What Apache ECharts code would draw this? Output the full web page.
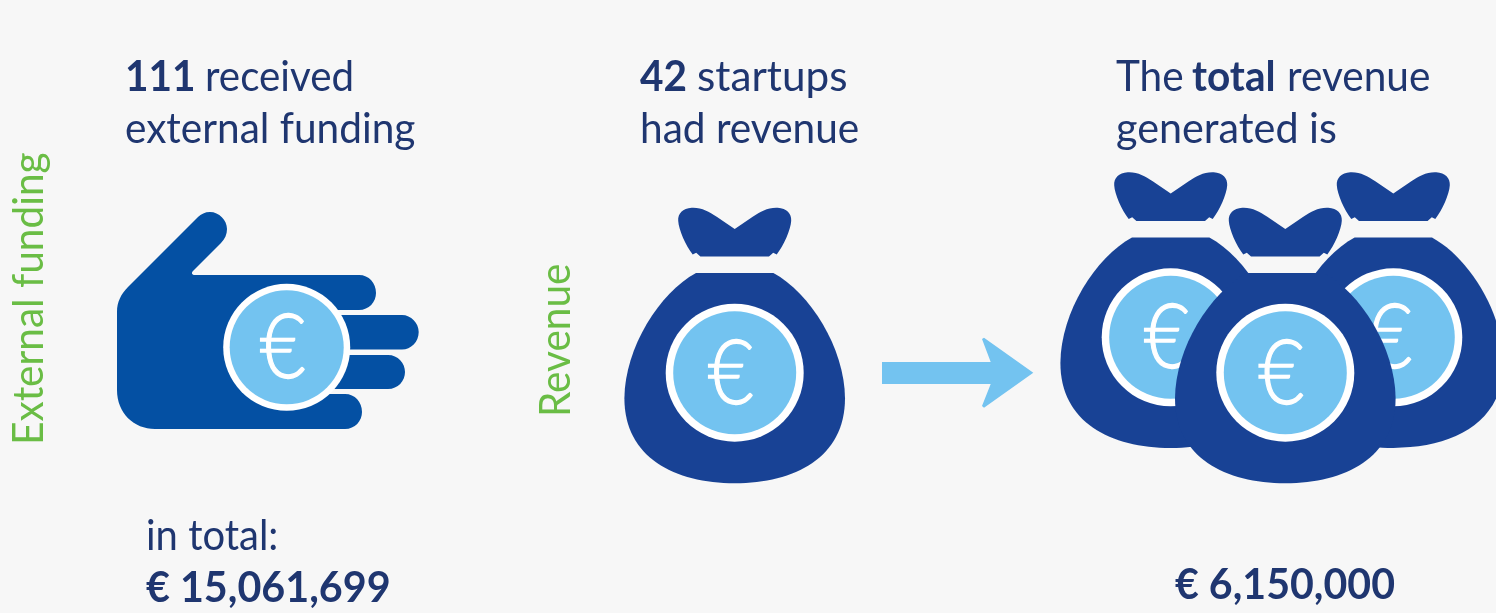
<!DOCTYPE html>
<html>
<head>
<meta charset="utf-8">
<title>External funding and revenue</title>
<script src="https://cdn.jsdelivr.net/npm/echarts@6/dist/echarts.min.js"></script>
<style>
html, body {margin: 0; padding: 0; background: #f7f7f7;}
#contain {width: 1496px; height: 613px;}
</style>
</head>
<body>
<div id="contain"></div>
<script>
// values
var sectionLabels = ['External funding', 'Revenue'];
var startupCounts = ['111', '42'];
var countTexts = ['received', 'startups'];
var fundingLines = ['external funding', 'in total:'];
var revenueLines = ['had revenue', 'generated is'];
var totalWords = ['The', 'total', 'revenue'];
var totals = ['€ 15,061,699', '€ 6,150,000'];
var coinSymbol = '€';
var icons = ['hand', 'bag', 'arrow', 'bag', 'bag', 'bag'];

var textFont = 'Lato';
var navy = '#1f3670';
var green = '#6abd45';
var coinBlue = '#73c3f0';
var handBlue = '#0450a3';
var bagBlue = '#184295';

// drawing order matters: the middle money bag sits on top of the other two coins
var placement = [[286.7, 347.3], [734.7, 372.7], [0, 0], [1170.7, 337.3], [1393.3, 337.3], [1285.3, 372.7]];

// bag shapes are relative to the coin centre, so the same path is used three times
var bagBody = 'M-38.7 -99.7 L38.7 -99.7 C75 -80 110 -25 110.3 25.6 C110.3 85 60 110.6 0 110.6 C-60 110.6 -110.3 85 -110.3 25.6 C-110 -25 -75 -80 -38.7 -99.7 Z';
var bagKnot = 'M0 -143.7 L-18 -156 C-26 -161 -33 -165.5 -43 -165 C-52 -164.5 -57 -159 -56.5 -152 C-56 -143 -49 -127 -42 -118.3 L-38.5 -120 L-34.3 -116.3 L34.3 -116.3 L38.5 -120 L42 -118.3 C49 -127 56 -143 56.5 -152 C57 -159 52 -164.5 43 -165 C33 -165.5 26 -161 18 -156 Z';
var handPath = 'M198 217 L128 287 C121 294 117 302 117 312 L117 390 C117 413 134 429 155 429 L345 429 C355 429 362 421 362 412 C362 402 355 394 345 394 L320 394 L320 389 L388 389 C398 389 405 381 405 372 C405 363 398 355 388 355 L330 355 L330 349.5 L402 349.5 C411 349.5 418.7 342 418.7 332 C418.7 323 411 315 402 315 L330 315 L330 310 L359 310 C369 310 376 302 376 293 C376 283 369 275 359 275 L195 275 C192 275 191 273 193 271 L221 243 C225 239 227 234 227 229 C227 220 219 212 210 212 C205 212 201 214 198 217 Z';
var arrowPath = 'M882 362 L990.7 362 L982 339 L984 337.7 L1033.3 372.7 L984 407.7 L982 406 L990.7 384 L882 384 Z';

function text(x, baseline, str, weight, color, scale, rotation) {
    var size = 42;
    var rotated = rotation ? 33.5 : 0;
    return {
        type: 'text', silent: true,
        x: x - rotated,
        y: rotated ? baseline : baseline - 33.5,
        scaleX: scale || 1, rotation: rotation || 0,
        style: {text: str, fill: color, font: weight + ' ' + size + 'px ' + textFont}
    };
}

function shape(d, x, y, fill) {
    return {type: 'path', x: x, y: y, shape: {pathData: d}, style: {fill: fill}, silent: true};
}

function coin(cx, cy, r, ring) {
    return [
        {type: 'circle', shape: {cx: cx, cy: cy, r: r}, style: {fill: '#ffffff'}, silent: true},
        {type: 'circle', shape: {cx: cx, cy: cy, r: r - ring}, style: {fill: coinBlue}, silent: true},
        {
            type: 'text', x: cx - 4, y: cy + 2, scaleX: 0.92, scaleY: 1.05, silent: true,
            style: {text: coinSymbol, fill: '#ffffff', stroke: '#ffffff', lineWidth: 1.2, font: '300 86px Lato', textAlign: 'center', verticalAlign: 'middle'}
        }
    ];
}

function renderIcon(params) {
    var name = icons[params.dataIndex];
    var pos = placement[params.dataIndex];
    var children;
    if (name === 'hand') {
        children = [shape(handPath, 0, 0, handBlue)].concat(coin(pos[0], pos[1], 63.5, 6.5));
    } else if (name === 'arrow') {
        children = [shape(arrowPath, 0, 0, coinBlue)];
    } else {
        children = [shape(bagBody, pos[0], pos[1], bagBlue), shape(bagKnot, pos[0], pos[1], bagBlue)].concat(coin(pos[0], pos[1], 69, 7.5));
    }
    return {type: 'group', children: children};
}

var labels = [
    text(42, 445, sectionLabels[0], 400, green, 0.966, Math.PI / 2),
    text(568.5, 417, sectionLabels[1], 400, green, 0.966, Math.PI / 2),
    text(125, 90, startupCounts[0], 700, navy, 0.966),
    text(205, 90, countTexts[0], 400, navy, 0.96),
    text(125, 142, fundingLines[0], 400, navy, 0.966),
    text(146, 549, fundingLines[1], 400, navy, 0.952),
    text(146, 601, totals[0], 700, navy, 0.982),
    text(640, 90, startupCounts[1], 700, navy, 0.966),
    text(697, 90, countTexts[1], 400, navy, 1.006),
    text(640, 142, revenueLines[0], 400, navy, 0.966),
    text(1116, 90, totalWords[0], 400, navy, 0.966),
    text(1192, 90, totalWords[1], 700, navy, 0.966),
    text(1287, 90, totalWords[2], 400, navy, 0.966),
    text(1116, 142, revenueLines[1], 400, navy, 0.984),
    text(1175, 598, totals[1], 700, navy, 0.979)
];

var myChart = echarts.init(document.getElementById('contain'));
myChart.setOption({
    animation: false,
    backgroundColor: '#f7f7f7',
    graphic: {elements: labels},
    series: [{
        type: 'custom',
        coordinateSystem: 'none',
        silent: true,
        data: icons,
        renderItem: renderIcon
    }]
});
</script>
</body>
</html>
